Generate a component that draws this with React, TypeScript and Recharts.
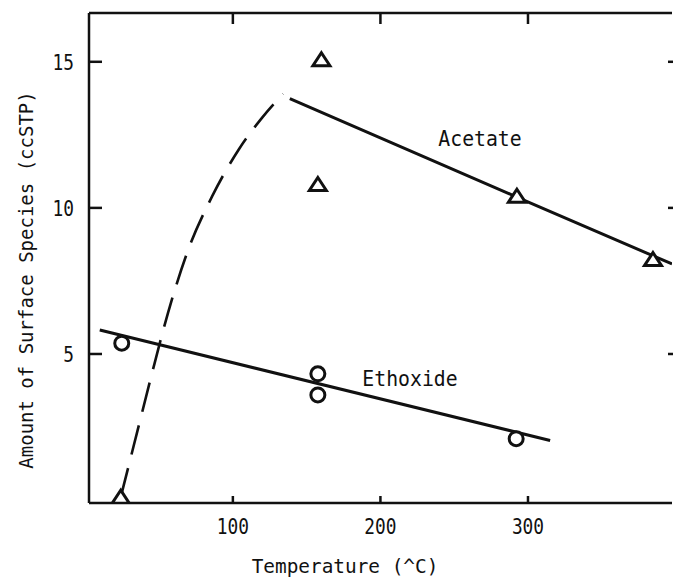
import { ComposedChart, Line, Scatter, XAxis, YAxis } from "recharts";

// measured points (temperature in C, amount in ccSTP)
const acetateTemps = [24, 160, 157.6, 292.5, 384.7];
const acetateAmounts = [0.1, 15.07, 10.8, 10.4, 8.23];
const ethoxideTemps = [24.7, 157.6, 157.6, 292];
const ethoxideAmounts = [5.37, 4.32, 3.6, 2.1];

// drawn trend lines
const acetateFitTemps = [138.6, 292, 397.6];
const acetateFitAmounts = [13.74, 10.38, 8.08];
const ethoxideFitTemps = [9.8, 315];
const ethoxideFitAmounts = [5.82, 2.04];
const riseTemps = [24, 35, 45, 56, 70, 86, 104, 120, 134];
const riseAmounts = [0.1, 2.3, 4.3, 6.4, 8.6, 10.4, 12.0, 13.1, 13.9];

const xTicks = [100, 200, 300];
const yTicks = [5, 10, 15];

const zip = (xs: number[], ys: number[]) => xs.map((t, i) => ({ t, v: ys[i] }));

const acetate = zip(acetateTemps, acetateAmounts);
const ethoxide = zip(ethoxideTemps, ethoxideAmounts);
const acetateFit = zip(acetateFitTemps, acetateFitAmounts);
const ethoxideFit = zip(ethoxideFitTemps, ethoxideFitAmounts);
const rise = zip(riseTemps, riseAmounts);

const FONT = "'DejaVu Sans Mono', monospace";
const INK = "#111";
const X_DOMAIN = [2.5, 397.6];
const Y_DOMAIN = [-0.1, 16.67];

// narrow, tall lettering like the plotter font of the original
const Narrow = ({ x, y, size, sx, anchor, children }: any) => (
  <text
    transform={`translate(${x},${y}) scale(${sx},1)`}
    textAnchor={anchor}
    fontFamily={FONT}
    fontSize={size}
    fill={INK}
  >
    {children}
  </text>
);

const BottomTick = (props: any) => {
  const { x, y, payload } = props;
  return (
    <g>
      <line x1={x} y1={y} x2={x} y2={y - 7} stroke={INK} strokeWidth={2.5} />
      <Narrow x={x} y={y + 31} size={21} sx={0.85} anchor="middle">
        {payload.value}
      </Narrow>
    </g>
  );
};

const TopTick = (props: any) => {
  const { x, y } = props;
  return <line x1={x} y1={y} x2={x} y2={y + 11} stroke={INK} strokeWidth={2.5} />;
};

const LeftTick = (props: any) => {
  const { x, y, payload } = props;
  return (
    <g>
      <line x1={x} y1={y} x2={x + 13} y2={y} stroke={INK} strokeWidth={2.5} />
      <Narrow x={x - 15} y={y + 8} size={21} sx={0.85} anchor="end">
        {payload.value}
      </Narrow>
    </g>
  );
};

const RightTick = (props: any) => {
  const { x, y } = props;
  return <line x1={x + 2} y1={y} x2={x - 4} y2={y} stroke={INK} strokeWidth={2.5} />;
};

const Triangle = (props: any) => {
  const { cx, cy } = props;
  return (
    <path
      d={`M${cx},${cy - 7} L${cx + 8.5},${cy + 6} L${cx - 8.5},${cy + 6} Z`}
      fill="#fff"
      stroke={INK}
      strokeWidth={3}
    />
  );
};

const Ring = (props: any) => {
  const { cx, cy } = props;
  return <circle cx={cx} cy={cy} r={7} fill="#fff" stroke={INK} strokeWidth={3} />;
};

export default function App() {
  return (
    <div style={{ position: "fixed", left: 0, top: 0, width: 673, height: 578, overflow: "hidden", background: "#fff" }}>
      <div style={{ position: "absolute", left: 0, top: 0 }}>
        <ComposedChart width={673} height={578} margin={{ top: 12, right: 0, bottom: 74, left: 0 }}>
          <XAxis
            xAxisId="b"
            type="number"
            dataKey="t"
            domain={X_DOMAIN}
            ticks={xTicks}
            allowDataOverflow
            height={1}
            tickSize={0}
            tickMargin={0}
            tickLine={false}
            axisLine={{ stroke: INK, strokeWidth: 2.5 }}
            tick={<BottomTick />}
          />
          <XAxis
            xAxisId="t"
            orientation="top"
            type="number"
            dataKey="t"
            domain={X_DOMAIN}
            ticks={xTicks}
            allowDataOverflow
            height={1}
            tickSize={0}
            tickMargin={0}
            tickLine={false}
            axisLine={{ stroke: INK, strokeWidth: 2.5 }}
            tick={<TopTick />}
          />
          <YAxis
            yAxisId="l"
            type="number"
            dataKey="v"
            domain={Y_DOMAIN}
            ticks={yTicks}
            allowDataOverflow
            width={89}
            tickSize={0}
            tickMargin={0}
            tickLine={false}
            axisLine={{ stroke: INK, strokeWidth: 2.5 }}
            tick={<LeftTick />}
          />
          <YAxis
            yAxisId="r"
            orientation="right"
            type="number"
            dataKey="v"
            domain={Y_DOMAIN}
            ticks={yTicks}
            allowDataOverflow
            width={1}
            tickSize={0}
            tickMargin={0}
            tickLine={false}
            axisLine={false}
            tick={<RightTick />}
          />
          <Line
            xAxisId="b"
            yAxisId="l"
            data={rise}
            dataKey="v"
            type="monotone"
            stroke={INK}
            strokeWidth={2.6}
            strokeDasharray="30 14"
            dot={false}
            activeDot={false}
            isAnimationActive={false}
          />
          <Line
            xAxisId="b"
            yAxisId="l"
            data={acetateFit}
            dataKey="v"
            type="linear"
            stroke={INK}
            strokeWidth={3}
            dot={false}
            activeDot={false}
            isAnimationActive={false}
          />
          <Line
            xAxisId="b"
            yAxisId="l"
            data={ethoxideFit}
            dataKey="v"
            type="linear"
            stroke={INK}
            strokeWidth={3}
            dot={false}
            activeDot={false}
            isAnimationActive={false}
          />
          <Scatter xAxisId="b" yAxisId="l" data={acetate} dataKey="v" shape={<Triangle />} isAnimationActive={false} />
          <Scatter xAxisId="b" yAxisId="l" data={ethoxide} dataKey="v" shape={<Ring />} isAnimationActive={false} />
        </ComposedChart>
      </div>
      <svg
        width={673}
        height={578}
        style={{ position: "absolute", left: 0, top: 0, pointerEvents: "none" }}
      >
        <Narrow x={480} y={146} size={22} sx={0.9} anchor="middle">
          Acetate
        </Narrow>
        <Narrow x={410} y={386} size={22} sx={0.9} anchor="middle">
          Ethoxide
        </Narrow>
        <Narrow x={345} y={573} size={20} sx={0.97} anchor="middle">
          Temperature (^C)
        </Narrow>
        <text
          x={0}
          y={0}
          textAnchor="middle"
          fontFamily={FONT}
          fontSize={20}
          fill={INK}
          transform="translate(33,280) rotate(-90) scale(0.95,1)"
        >
          Amount of Surface Species (ccSTP)
        </text>
      </svg>
    </div>
  );
}
